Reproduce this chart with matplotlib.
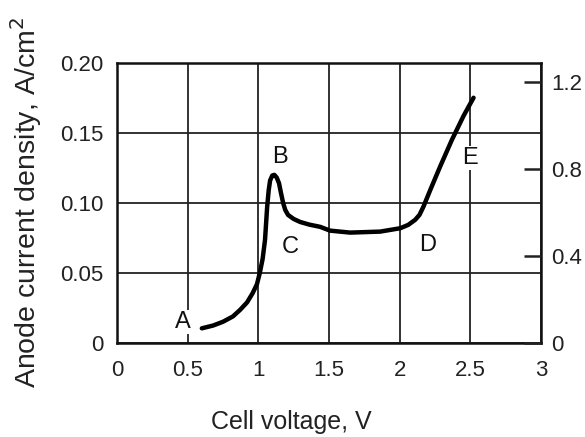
import matplotlib
matplotlib.use("Agg")
import matplotlib.pyplot as plt

# curve (cell voltage V, anode current density A/cm2)
voltage = [0.60, 0.68, 0.75, 0.82, 0.87, 0.92, 0.96, 0.99, 1.01, 1.03, 1.047, 1.062, 1.073,
           1.083, 1.098, 1.113, 1.130, 1.146, 1.160, 1.175, 1.19, 1.21, 1.25, 1.295, 1.36,
           1.437, 1.507, 1.649, 1.861, 2.003, 2.06, 2.109, 2.14, 2.168, 2.215, 2.286,
           2.369, 2.451, 2.522]
current = [0.0105, 0.0125, 0.0152, 0.0190, 0.0236, 0.0290, 0.0357, 0.0420, 0.050, 0.060,
           0.0736, 0.097, 0.109, 0.116, 0.1195, 0.120, 0.118, 0.114, 0.107, 0.100, 0.095,
           0.0914, 0.0885, 0.0864, 0.0845, 0.0829, 0.0802, 0.0788, 0.0795, 0.0819, 0.0843,
           0.0879, 0.0915, 0.0974, 0.109, 0.126, 0.145, 0.162, 0.175]

x_ticks = [0, 0.5, 1, 1.5, 2, 2.5, 3]
x_tick_labels = ["0", "0.5", "1", "1.5", "2", "2.5", "3"]
y_ticks = [0, 0.05, 0.10, 0.15, 0.20]
y_tick_labels = ["0", "0.05", "0.10", "0.15", "0.20"]
right_ticks = [0, 0.4, 0.8, 1.2]
right_tick_labels = ["0", "0.4", "0.8", "1.2"]

# point labels
point_names = ["A", "B", "C", "D", "E"]
point_x = [0.467, 1.153, 1.224, 2.194, 2.498]
point_y = [0.015, 0.133, 0.0686, 0.070, 0.132]

plt.rcParams['font.family'] = ['Liberation Sans', 'DejaVu Sans']

fig = plt.figure(figsize=(5.85, 4.37), dpi=100)
ax = fig.add_axes([0.2, 0.215, 0.725, 0.6415])

ax.plot(voltage, current, color='black', lw=3.2, solid_capstyle='round',
        solid_joinstyle='round', zorder=3)

ax.set_xlim(0, 3)
ax.set_ylim(0, 0.20)
ax.set_xticks(x_ticks)
ax.set_xticklabels(x_tick_labels)
ax.set_yticks(y_ticks)
ax.set_yticklabels(y_tick_labels)
ax.tick_params(axis='both', length=0, labelsize=16, colors='#222222')
ax.tick_params(axis='x', pad=12)
ax.tick_params(axis='y', pad=10)
ax.grid(True, color='#222222', lw=1.3)

for s in ax.spines.values():
    s.set_linewidth(1.8)
    s.set_color('#111111')

ax.set_xlabel("Cell voltage, V", fontsize=18, color='#222222')
ax.xaxis.set_label_coords(0.41, -0.282)
ax.xaxis.label.set_va('center')
ax.set_ylabel("Anode current density, A/cm$^2$", fontsize=20.5, color='#222222')
ax.yaxis.set_label_coords(-0.215, 0.5)
ax.yaxis.label.set_va('center')

for name, px, py in zip(point_names, point_x, point_y):
    ax.text(px, py, name, fontsize=17, ha='center', va='center', color='#111111',
            zorder=4, bbox=dict(facecolor='white', edgecolor='none', pad=1.0))

# right-hand scale
ax2 = ax.twinx()
ax2.set_ylim(0, 1.29)
ax2.set_yticks(right_ticks)
ax2.set_yticklabels(right_tick_labels)
ax2.tick_params(axis='y', direction='in', length=12, width=1.8, pad=7,
                labelsize=16, colors='#222222')
for s in ax2.spines.values():
    s.set_visible(False)

fig.savefig("out.png", dpi=100, facecolor='white')
